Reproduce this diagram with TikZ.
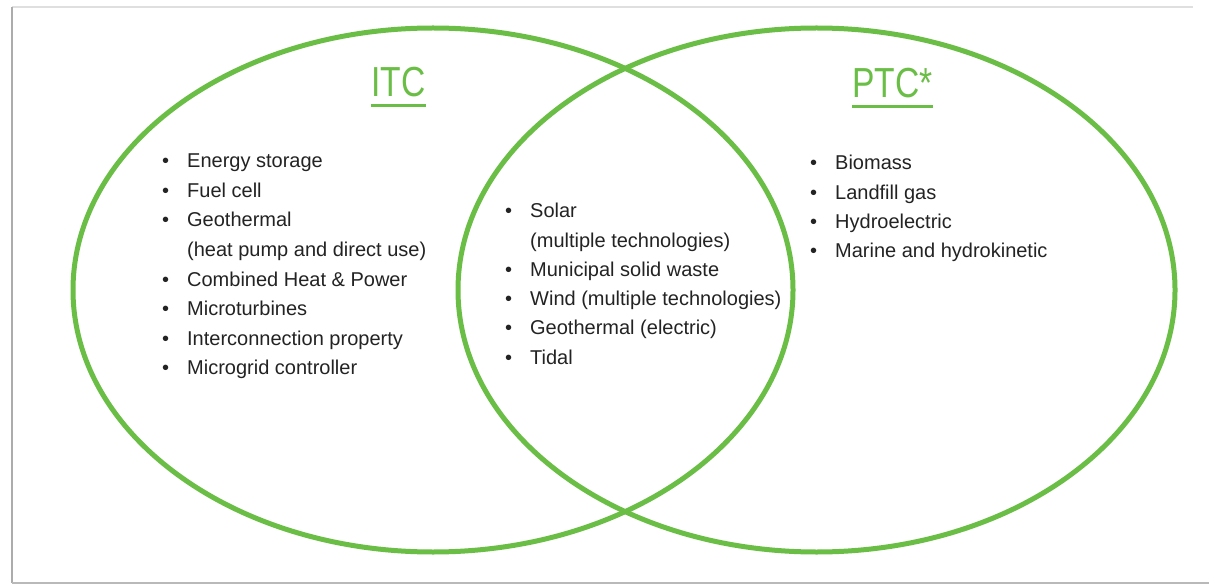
\documentclass[tikz,border=0pt]{standalone}
\usepackage{fontspec}
\setmainfont{Liberation Sans}
\definecolor{vgreen}{RGB}{106,190,70}
\definecolor{vtext}{RGB}{35,35,35}
\begin{document}
\begin{tikzpicture}[x=1pt,y=-1pt,
  ring/.style={draw=vgreen, line width=5pt},
  title/.style={anchor=base west, inner sep=0pt, text=vgreen,
    font=\fontsize{42}{42}\selectfont},
  entry/.style={anchor=base west, inner sep=0pt, text=vtext,
    font=\fontsize{20}{24}\selectfont},
  rule/.style={draw=vgreen, line width=3pt}]
\useasboundingbox (0,0) rectangle (1209,585);
\fill[white] (0,0) rectangle (1209,585);
% frame of the slide
\draw[gray!25, line width=1.5pt] (12,7) -- (1193,7);
\draw[gray!65, line width=2pt] (12,7) -- (12,583);
\draw[gray!55, line width=2pt] (12,583) -- (1209,583);

% the two sets
\draw[ring] (433,290) ellipse [x radius=360, y radius=262];
\draw[ring] (816.5,290) ellipse [x radius=358.5, y radius=262];

% set titles
\node[title] (itc) at (371,97) {\scalebox{0.8}[1]{ITC}};
\node[title] (ptc) at (852,98) {\scalebox{0.8}[1]{PTC*}};
\draw[rule] ([yshift=-9pt]itc.base west) -- ([yshift=-9pt]itc.base east);
\draw[rule] ([yshift=-9pt]ptc.base west) -- ([yshift=-9pt]ptc.base east);

\newcommand{\blt}{\makebox[25pt][l]{\textbullet}}
\newcommand{\nob}{\hspace*{25pt}}

% ITC only
\node[entry] (a1) at (162,168)   {\blt Energy storage};
\node[entry] (a2) at (162,197.5) {\blt Fuel cell};
\node[entry] (a3) at (162,227)   {\blt Geothermal};
\node[entry] (a4) at (162,256.5) {\nob(heat pump and direct use)};
\node[entry] (a5) at (162,286)   {\blt Combined Heat \& Power};
\node[entry] (a6) at (162,315.5) {\blt Microturbines};
\node[entry] (a7) at (162,345)   {\blt Interconnection property};
\node[entry] (a8) at (162,374.5) {\blt Microgrid controller};

% both credits
\node[entry] (b1) at (505,218)   {\blt Solar};
\node[entry] (b2) at (505,247.2) {\nob(multiple technologies)};
\node[entry] (b3) at (505,276.4) {\blt Municipal solid waste};
\node[entry] (b4) at (505,305.6) {\blt Wind (multiple technologies)};
\node[entry] (b5) at (505,334.8) {\blt Geothermal (electric)};
\node[entry] (b6) at (505,364)   {\blt Tidal};

% PTC only
\node[entry] (c1) at (810,170)   {\blt Biomass};
\node[entry] (c2) at (810,199.3) {\blt Landfill gas};
\node[entry] (c3) at (810,228.6) {\blt Hydroelectric};
\node[entry] (c4) at (810,257.9) {\blt Marine and hydrokinetic};
\end{tikzpicture}
\end{document}
